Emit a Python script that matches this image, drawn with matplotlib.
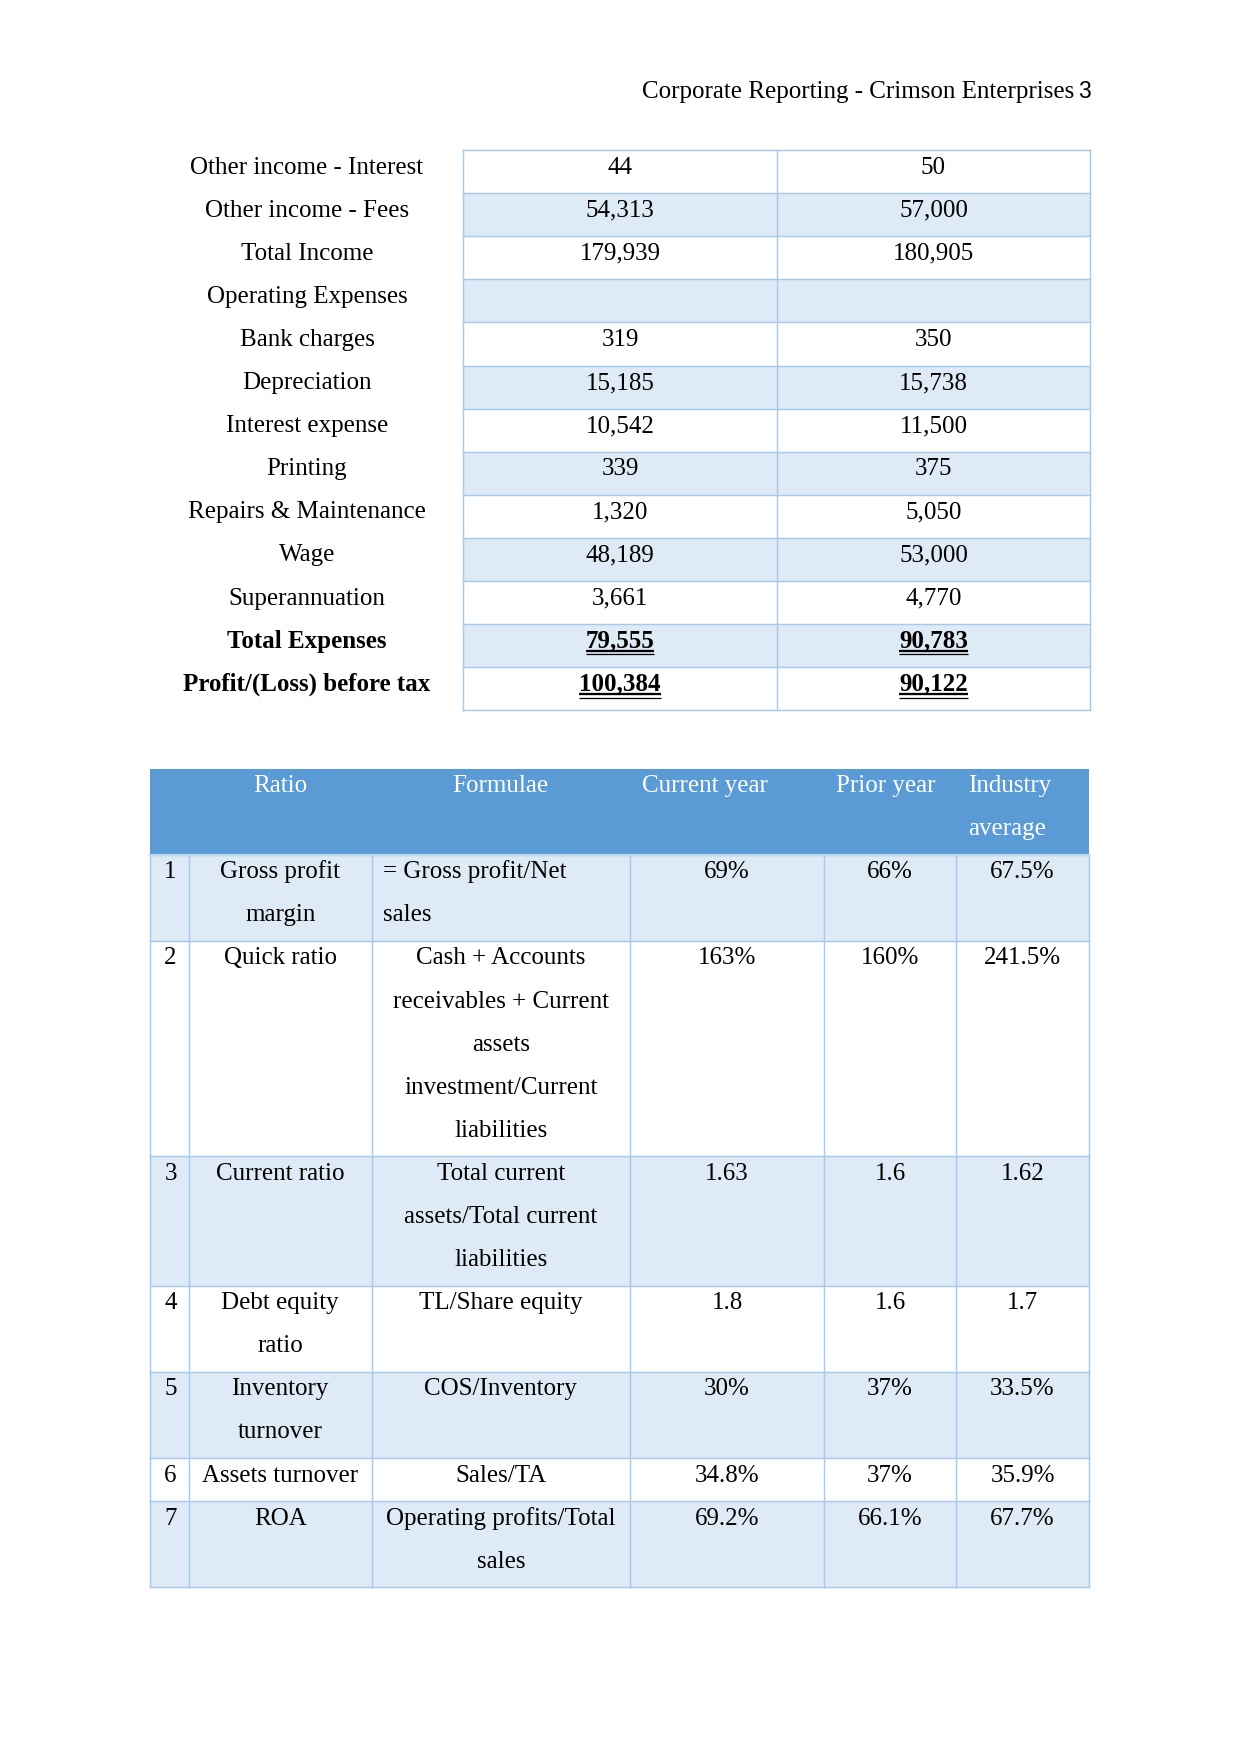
import matplotlib
matplotlib.use("Agg")
import matplotlib.pyplot as plt
from matplotlib.patches import Rectangle

# ---------------- data ----------------
page_header = "Corporate Reporting - Crimson Enterprises"
page_number = "3"

t1_labels = ["Other income - Interest", "Other income - Fees", "Total Income",
             "Operating Expenses", "Bank charges", "Depreciation", "Interest expense",
             "Printing", "Repairs & Maintenance", "Wage", "Superannuation",
             "Total Expenses", "Profit/(Loss) before tax"]
t1_current = [44, 54313, 179939, None, 319, 15185, 10542, 339, 1320, 48189, 3661, 79555, 100384]
t1_prior = [50, 57000, 180905, None, 350, 15738, 11500, 375, 5050, 53000, 4770, 90783, 90122]
t1_bold = ["Total Expenses", "Profit/(Loss) before tax"]

t2_headers = ["", "Ratio", "Formulae", "Current year", "Prior year", "Industry\naverage"]
t2_numbers = ["1", "2", "3", "4", "5", "6", "7"]
t2_ratios = ["Gross profit\nmargin", "Quick ratio", "Current ratio", "Debt equity\nratio",
             "Inventory\nturnover", "Assets turnover", "ROA"]
t2_formulae = ["= Gross profit/Net\nsales",
               "Cash + Accounts\nreceivables + Current\nassets\ninvestment/Current\nliabilities",
               "Total current\nassets/Total current\nliabilities",
               "TL/Share equity", "COS/Inventory", "Sales/TA",
               "Operating profits/Total\nsales"]
t2_current = ["69%", "163%", "1.63", "1.8", "30%", "34.8%", "69.2%"]
t2_prior = ["66%", "160%", "1.6", "1.6", "37%", "37%", "66.1%"]
t2_industry = ["67.5%", "241.5%", "1.62", "1.7", "33.5%", "35.9%", "67.7%"]

# ---------------- style ----------------
W, H = 1241, 1754
DPI = 150
FONT = "Liberation Serif"
FS = 12
LIGHT = "#DEEAF6"
BORDER = "#A8C9E8"
HEAD = "#5B9BD5"
LINE_H = 43.1
BASE = 23.5
LW = 0.7

fig = plt.figure(figsize=(W / DPI, H / DPI), dpi=DPI)
ax = fig.add_axes([0, 0, 1, 1])
ax.set_xlim(0, W)
ax.set_ylim(H, 0)
ax.axis("off")


def txt(x, y, s, ha="center", bold=False, color="black", family=FONT, size=FS):
    return ax.text(x, y, s, ha=ha, va="baseline", fontsize=size, family=family,
                   fontweight="bold" if bold else "normal", color=color)


# header
txt(1074, 98, page_header, ha="right")
txt(1091, 98, page_number, ha="right", family="Liberation Sans", size=11)

# ---------------- table 1 ----------------
t1_top = 150
t1_x = [463, 777, 1090]
label_cx = 307
for i, lab in enumerate(t1_labels):
    top = t1_top + i * LINE_H
    if i % 2 == 1:
        ax.add_patch(Rectangle((t1_x[0], top), t1_x[2] - t1_x[0], LINE_H,
                               facecolor=LIGHT, edgecolor="none", zorder=0))
    bold = lab in t1_bold
    txt(label_cx, top + BASE, lab, bold=bold)
    for c, vals in enumerate([t1_current, t1_prior]):
        v = vals[i]
        if v is None:
            continue
        cx = (t1_x[c] + t1_x[c + 1]) / 2
        t = txt(cx, top + BASE, f"{v:,}", bold=bold)
        if bold:
            fig.canvas.draw()
            bb = t.get_window_extent(renderer=fig.canvas.get_renderer())
            x0, x1 = bb.x0, bb.x1
            y = top + BASE
            ax.plot([x0, x1], [y + 3.0, y + 3.0], color="black", lw=1.1, solid_capstyle="butt")
            ax.plot([x0, x1], [y + 6.8, y + 6.8], color="black", lw=0.6, solid_capstyle="butt")

n1 = len(t1_labels)
t1_bottom = t1_top + n1 * LINE_H
for i in range(n1 + 1):
    y = t1_top + i * LINE_H
    ax.plot([t1_x[0], t1_x[2]], [y, y], color=BORDER, lw=LW)
for x in t1_x:
    ax.plot([x, x], [t1_top, t1_bottom], color=BORDER, lw=LW)

# ---------------- table 2 ----------------
cols = [150, 189, 371.5, 630, 824, 956, 1089]
t2_top = 768.5
head_lines = max(len(h.split("\n")) for h in t2_headers)
head_h = head_lines * LINE_H
ax.add_patch(Rectangle((cols[0], t2_top), cols[-1] - cols[0], head_h,
                       facecolor=HEAD, edgecolor="none", zorder=0))
head_align = ["center", "center", "center", "left", "left", "left"]
for c, h in enumerate(t2_headers):
    for k, line in enumerate(h.split("\n")):
        if not line:
            continue
        if head_align[c] == "center":
            x = (cols[c] + cols[c + 1]) / 2
        else:
            x = cols[c] + 12
        txt(x, t2_top + BASE + k * LINE_H, line, ha=head_align[c], color="white")

rows = list(zip(t2_numbers, t2_ratios, t2_formulae, t2_current, t2_prior, t2_industry))
y = t2_top + head_h
row_edges = [y]
for r, row in enumerate(rows):
    nl = max(len(s.split("\n")) for s in row)
    rh = nl * LINE_H
    if r % 2 == 0:
        ax.add_patch(Rectangle((cols[0], y), cols[-1] - cols[0], rh,
                               facecolor=LIGHT, edgecolor="none", zorder=0))
    for c, s in enumerate(row):
        for k, line in enumerate(s.split("\n")):
            if c == 2 and r == 0:
                txt(cols[c] + 11.5, y + BASE + k * LINE_H, line, ha="left")
            else:
                txt((cols[c] + cols[c + 1]) / 2 + (1 if c == 0 else 0),
                    y + BASE + k * LINE_H, line)
    y += rh
    row_edges.append(y)

t2_bottom = y
for ye in row_edges:
    ax.plot([cols[0], cols[-1]], [ye, ye], color=BORDER, lw=LW)
for x in cols:
    ax.plot([x, x], [row_edges[0], t2_bottom], color=BORDER, lw=LW)
ax.plot([cols[0], cols[-1]], [row_edges[0], row_edges[0]], color="#BDD7EE", lw=1.0)

fig.savefig("out.png", dpi=DPI)
